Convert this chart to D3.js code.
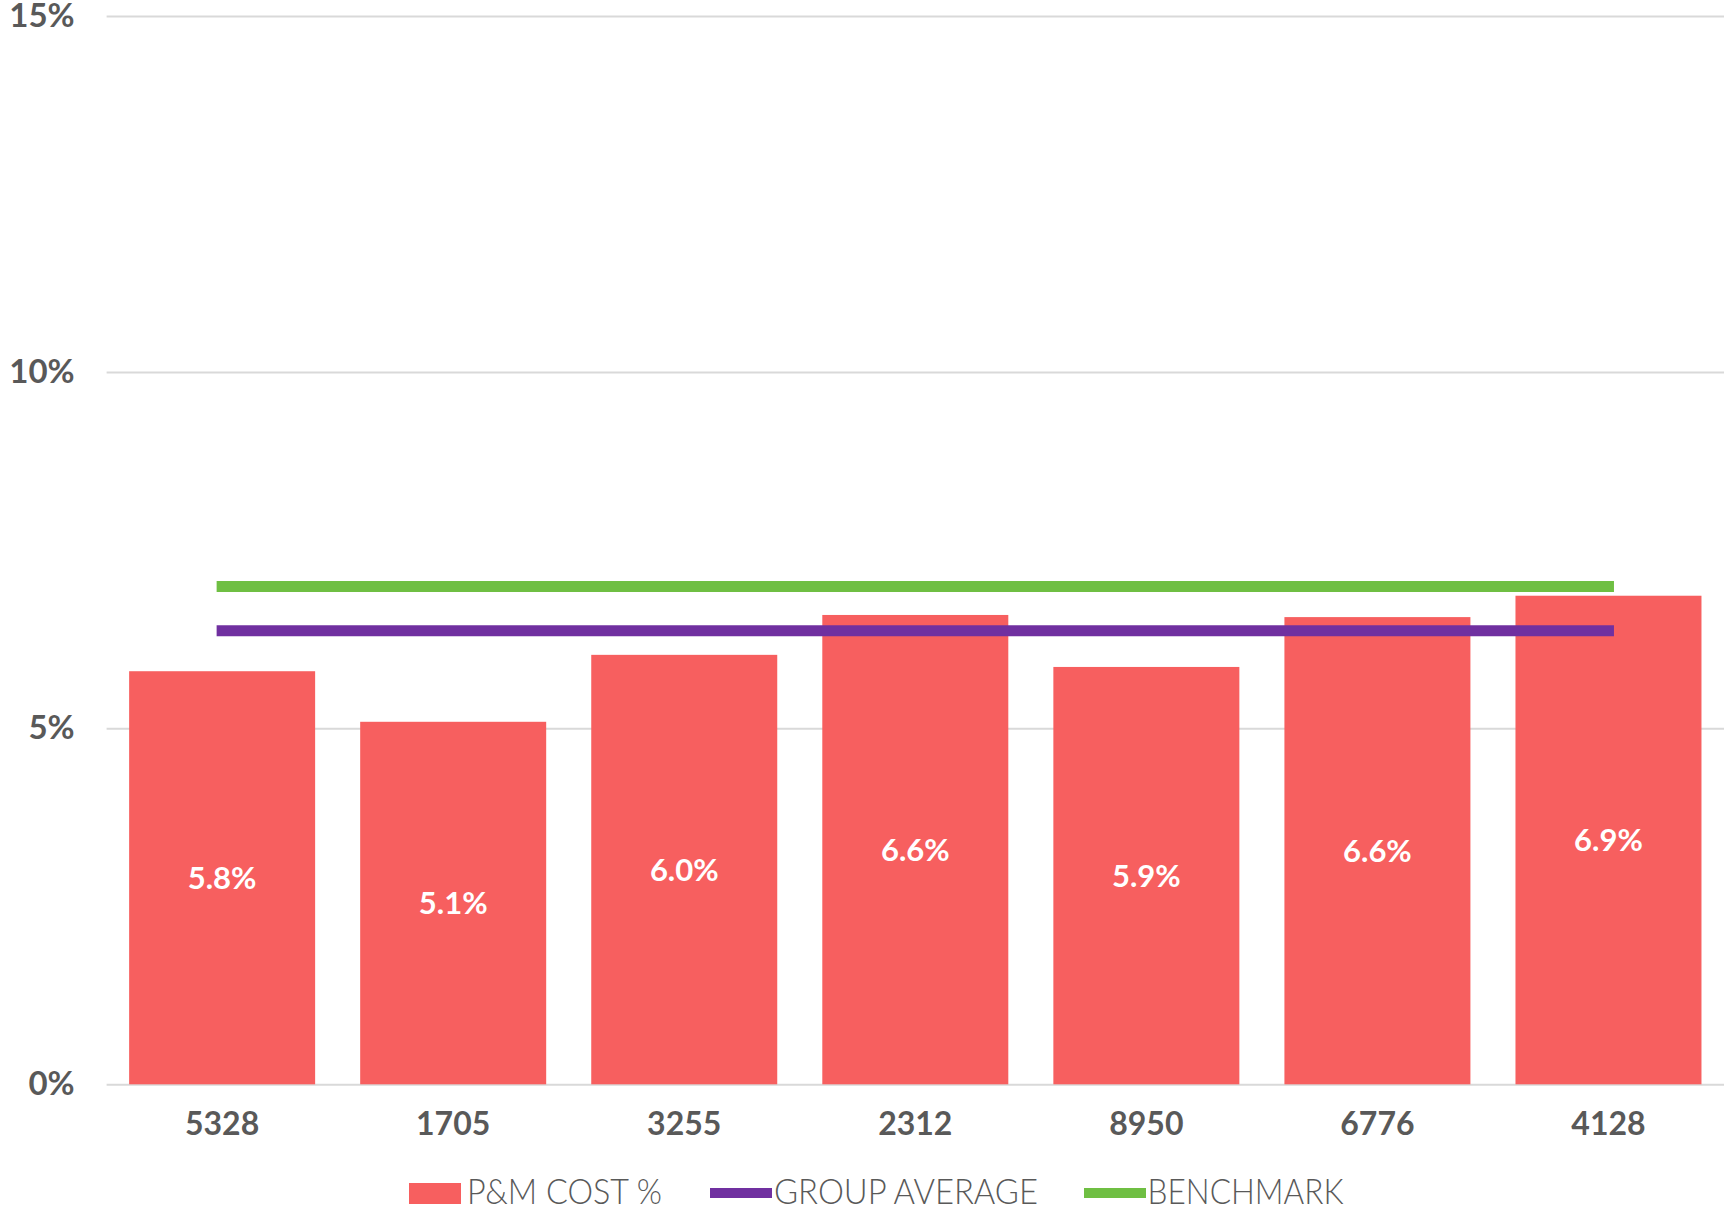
<!DOCTYPE html>
<html>
<head>
<meta charset="utf-8">
<script src="https://cdn.jsdelivr.net/npm/d3@7"></script>
<style>
  html, body { margin: 0; padding: 0; background: #fff; }
  svg { display: block; }
</style>
</head>
<body>
<svg id="chart" width="1724" height="1208"></svg>
<script>
// ---- data ----
const categories = ["5328", "1705", "3255", "2312", "8950", "6776", "4128"];
const costPct = [5.80, 5.09, 6.03, 6.59, 5.86, 6.56, 6.86];
const groupAverage = 6.37;
const benchmark = 6.99;
const yTicks = [0, 5, 10, 15];
const legendLabels = ["P&M COST %", "GROUP AVERAGE", "BENCHMARK"];

// ---- layout ----
const W = 1724, H = 1208;
const plot = { left: 106.6, right: 1724, top: 16, bottom: 1084.3 };
const colors = { bar: "#F75F5F", avg: "#7030A0", bench: "#6FBF43", text: "#595959", grid: "#D9D9D9" };
const fontBold = "Lato, 'Open Sans', sans-serif";

const svg = d3.select("#chart");

const x = d3.scaleBand()
  .domain(categories)
  .range([plot.left, plot.right])
  .paddingInner(0.195)
  .paddingOuter(0.0975);

const y = d3.scaleLinear().domain([0, 15]).range([plot.bottom, plot.top]);

// gridlines + y labels
const yAxis = d3.axisLeft(y)
  .tickValues(yTicks)
  .tickSize(-(plot.right - plot.left))
  .tickPadding(32)
  .tickFormat(d => d + "%");

const gy = svg.append("g")
  .attr("transform", `translate(${plot.left},0)`)
  .call(yAxis);
gy.select(".domain").remove();
gy.selectAll(".tick line").attr("stroke", colors.grid).attr("stroke-width", 2);
gy.selectAll(".tick text")
  .attr("fill", colors.text)
  .style("font-family", fontBold)
  .style("font-weight", 700)
  .style("font-size", "33px");

// bars
const data = categories.map((c, i) => ({ c, v: costPct[i] }));
svg.append("g").selectAll("rect")
  .data(data)
  .join("rect")
  .attr("x", d => x(d.c))
  .attr("y", d => y(d.v))
  .attr("width", x.bandwidth())
  .attr("height", d => y(0) - y(d.v))
  .attr("fill", colors.bar);

// bar value labels
const fmt = d3.format(".1f");
svg.append("g").selectAll("text")
  .data(data)
  .join("text")
  .attr("x", d => x(d.c) + x.bandwidth() / 2)
  .attr("y", d => (y(d.v) + y(0)) / 2)
  .attr("dy", "0.36em")
  .attr("text-anchor", "middle")
  .attr("fill", "#fff")
  .style("font-family", fontBold)
  .style("font-weight", 700)
  .style("font-size", "31px")
  .text(d => fmt(d.v) + "%");

// reference lines (from first to last category centre)
const x0 = x(categories[0]) + x.bandwidth() / 2;
const x1 = x(categories[categories.length - 1]) + x.bandwidth() / 2;
[[benchmark, colors.bench], [groupAverage, colors.avg]].forEach(([v, col]) => {
  svg.append("line")
    .attr("x1", x0).attr("x2", x1)
    .attr("y1", y(v)).attr("y2", y(v))
    .attr("stroke", col)
    .attr("stroke-width", 11)
    .attr("stroke-linecap", "square");
});

// x axis labels
const xAxis = d3.axisBottom(x).tickSize(0).tickPadding(28);
const gx = svg.append("g")
  .attr("transform", `translate(0,${plot.bottom})`)
  .call(xAxis);
gx.select(".domain").remove();
gx.selectAll(".tick text")
  .attr("fill", colors.text)
  .style("font-family", fontBold)
  .style("font-weight", 700)
  .style("font-size", "32px");

// legend
const legendY = 1193;
const legend = svg.append("g");
const items = [
  { label: legendLabels[0], type: "rect", color: colors.bar, sx: 409, sw: 52, tx: 467, tw: 195 },
  { label: legendLabels[1], type: "line", color: colors.avg, sx: 710, sw: 62, tx: 774, tw: 264 },
  { label: legendLabels[2], type: "line", color: colors.bench, sx: 1084, sw: 62, tx: 1147.5, tw: 196 }
];
items.forEach(it => {
  if (it.type === "rect") {
    legend.append("rect")
      .attr("x", it.sx).attr("y", 1183)
      .attr("width", it.sw).attr("height", 21)
      .attr("fill", it.color);
  } else {
    legend.append("rect")
      .attr("x", it.sx).attr("y", legendY - 5)
      .attr("width", it.sw).attr("height", 10)
      .attr("fill", it.color);
  }
  legend.append("text")
    .attr("x", it.tx)
    .attr("y", 1203.5)
    .attr("fill", colors.text)
    .attr("textLength", it.tw)
    .attr("lengthAdjust", "spacingAndGlyphs")
    .style("font-family", "Lato, sans-serif")
    .style("font-weight", 300)
    .style("font-size", "35px")
    .text(it.label);
});
</script>
</body>
</html>
